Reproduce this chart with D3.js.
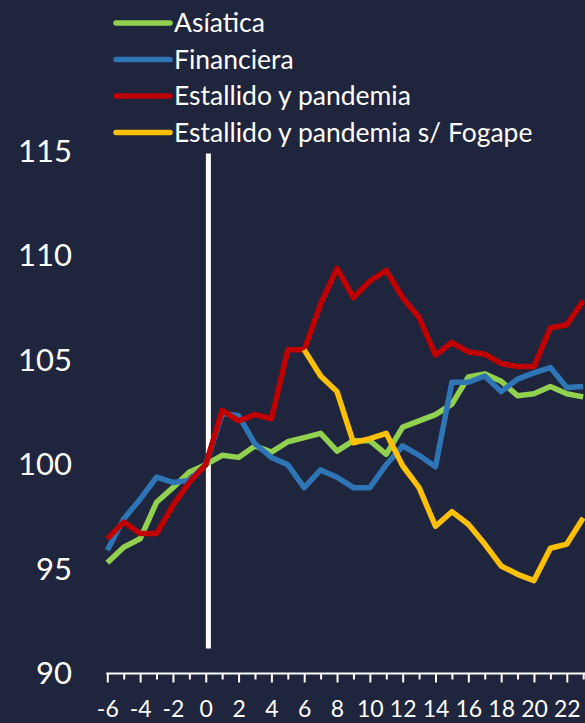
<!DOCTYPE html>
<html><head><meta charset="utf-8">
<script src="https://cdn.jsdelivr.net/npm/d3@7"></script>
<style>html,body{margin:0;padding:0;background:#1f253d;} svg{display:block}</style>
</head><body><svg id="c" width="585" height="723"></svg>
<script>
const periods = [-6,-5,-4,-3,-2,-1,0,1,2,3,4,5,6,7,8,9,10,11,12,13,14,15,16,17,18,19,20,21,22,23];
const xTickLabels = [-6,-4,-2,0,2,4,6,8,10,12,14,16,18,20,22];
const yTicks = [90,95,100,105,110,115];
const asiatica = [95.3,96.05,96.45,98.2,98.9,99.65,100,100.45,100.35,100.9,100.6,101.1,101.3,101.5,100.65,101.15,101.15,100.5,101.8,102.1,102.4,102.9,104.2,104.35,104.0,103.3,103.4,103.75,103.4,103.25];
const financiera = [95.9,97.4,98.35,99.4,99.15,99.25,100,102.45,102.35,101.0,100.35,100.0,98.9,99.75,99.4,98.9,98.9,100.0,100.9,100.45,99.9,103.95,103.95,104.25,103.5,104.1,104.4,104.65,103.7,103.75];
const estallido = [96.45,97.25,96.7,96.7,98.05,99.15,100,102.6,102.1,102.4,102.2,105.5,105.5,107.7,109.4,108.0,108.8,109.3,108.0,107.05,105.25,105.85,105.4,105.3,104.85,104.7,104.7,106.55,106.7,107.85];
const fogape = [null,null,null,null,null,null,null,null,null,null,null,null,105.5,104.25,103.5,101.05,101.25,101.5,99.95,98.9,97.05,97.75,97.15,96.2,95.15,94.75,94.45,96.0,96.2,97.45];
const seriesNames = ["Asíatica","Financiera","Estallido y pandemia","Estallido y pandemia s/ Fogape"];
const seriesColors = ["#92d050","#2e75b6","#c00000","#ffc000"];
const markerX = 0.16;
const markerY = [114.9, 91.2];

const svg = d3.select("#c");
const W = 585, H = 723;
svg.append("rect").attr("width",W).attr("height",H).attr("fill","#1f253d");

const x = d3.scaleLinear().domain([-6,23]).range([107.3,583.2]);
const y = d3.scaleLinear().domain([90,115]).range([673.5,151.5]);
const font = "Lato, 'Open Sans', sans-serif";

// y axis labels
const ya = svg.append("g").attr("transform","translate(80,0)")
  .call(d3.axisLeft(y).tickValues(yTicks).tickSize(0).tickPadding(8));
ya.select(".domain").remove();
ya.selectAll("text").attr("fill","#fff").style("font-family",font).style("font-size","31px");

// x axis
const xMajor = svg.append("g").attr("transform",`translate(0,${y(90)})`)
  .call(d3.axisBottom(x).tickValues(xTickLabels).tickSize(9).tickSizeOuter(0).tickPadding(18).tickFormat(d => String(d)));
xMajor.select(".domain").remove();
xMajor.selectAll("line").attr("stroke","#fff").attr("stroke-width",2);
xMajor.selectAll("text").attr("fill","#fff").style("font-family",font).style("font-size","23px");
const xMinor = svg.append("g").attr("transform",`translate(0,${y(90)})`)
  .call(d3.axisBottom(x).tickValues(periods.filter(p => !xTickLabels.includes(p))).tickSize(6).tickSizeOuter(0).tickFormat(""));
xMinor.select(".domain").remove();
xMinor.selectAll("line").attr("stroke","#fff").attr("stroke-width",2);
svg.append("line").attr("x1",x(-6)-1).attr("x2",W).attr("y1",y(90)).attr("y2",y(90))
  .attr("stroke","#fff").attr("stroke-width",2);

// vertical marker
svg.append("line").attr("x1",x(markerX)).attr("x2",x(markerX))
  .attr("y1",y(markerY[0])).attr("y2",y(markerY[1]))
  .attr("stroke","#fff").attr("stroke-width",5);

// series
const allSeries = [asiatica, financiera, estallido, fogape];
const line = d3.line().defined(d => d[1] != null).x(d => x(d[0])).y(d => y(d[1]));
allSeries.forEach((s,i) => {
  svg.append("path").datum(periods.map((p,j) => [p, s[j]]))
    .attr("d", line).attr("fill","none").attr("stroke",seriesColors[i])
    .attr("stroke-width",5.5).attr("stroke-linejoin","round").attr("stroke-linecap","butt");
});

// legend
const lg = svg.append("g");
seriesNames.forEach((n,i) => {
  const ly = 23 + i*36.5;
  lg.append("line").attr("x1",116).attr("x2",170).attr("y1",ly).attr("y2",ly)
    .attr("stroke",seriesColors[i]).attr("stroke-width",5.5).attr("stroke-linecap","round");
  lg.append("text").attr("x",174).attr("y",ly+9).text(n).attr("fill","#fff")
    .style("font-family",font).style("font-size","26.5px");
});
</script></body></html>
